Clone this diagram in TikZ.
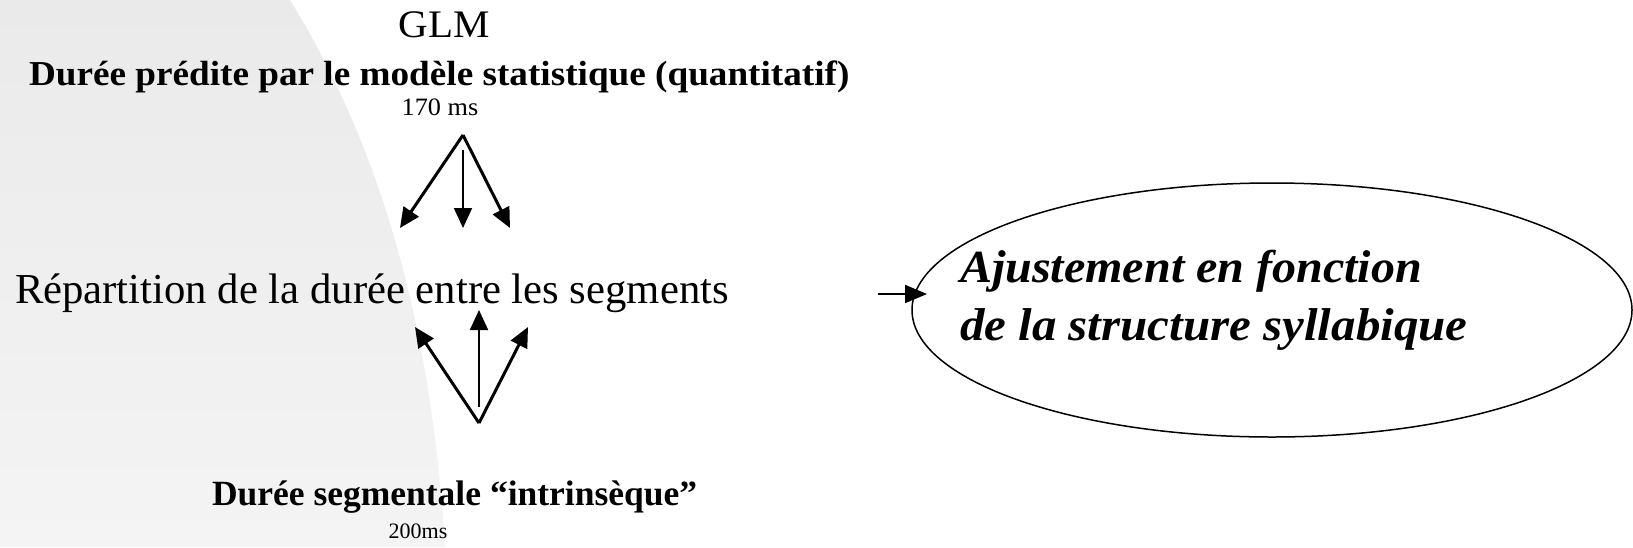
\documentclass[tikz,border=0pt]{standalone}
\usepackage{graphicx}
\usepackage{fontspec}
\setmainfont{Liberation Serif}
\usetikzlibrary{arrows.meta,shapes.geometric}
\tikzset{
  txt/.style={inner sep=0pt,outer sep=0pt,anchor=base},
  thick arrow/.style={line width=3pt,-{Triangle[length=20pt,width=18pt]}},
  thin arrow/.style={line width=1.8pt,-{Triangle[length=20pt,width=18pt]}},
  small arrow/.style={line width=1.8pt,-{Triangle[length=22pt,width=18pt]}},
  bubble/.style={draw,ellipse,line width=1.5pt,inner sep=0pt,minimum width=720pt,minimum height=254pt}
}
\begin{document}
\begin{tikzpicture}[x=1pt,y=-1pt]
\useasboundingbox (0,0) rectangle (1633,547);
% background swoosh
\shade[top color={rgb,255:red,234;green,234;blue,234},bottom color={rgb,255:red,244;green,244;blue,244}]
  (0,0) -- (290,0) .. controls (370,130) and (430,300) .. (445,547) -- (0,547) -- cycle;

\node[txt] (glm) at (444,37) {\fontsize{39}{42}\selectfont\scalebox{1.05}[1]{GLM}};
\node[txt,anchor=base west] (pred) at (29,85) {\fontsize{35}{38}\selectfont\bfseries\scalebox{1.063}[1]{Durée prédite par le modèle statistique (quantitatif)}};
\node[txt] (ms170) at (440,115) {\fontsize{25}{27}\selectfont\scalebox{1.05}[1]{170 ms}};
\node[txt,anchor=base west] (rep) at (15,303) {\fontsize{42.7}{46}\selectfont Répartition de la durée entre les segments};
\node[txt,anchor=base west] (seg) at (212,505) {\fontsize{35.5}{38}\selectfont\bfseries Durée segmentale “intrinsèque”};
\node[txt] (ms200) at (418,538) {\fontsize{22}{24}\selectfont 200ms};

\node[bubble] (ell) at (1272,310) {};
\node[txt,anchor=base west] (aj1) at (960,282) {\fontsize{46}{50}\selectfont\bfseries\itshape\scalebox{1.045}[1]{Ajustement en fonction}};
\node[txt,anchor=base west] (aj2) at (960,340) {\fontsize{46}{50}\selectfont\bfseries\itshape\scalebox{1.065}[1]{de la structure syllabique}};

% top arrows
\coordinate (ta) at (463,135);
\coordinate (tm) at (463,150);
\coordinate (tl) at (400,228);
\coordinate (tc) at (463,228);
\coordinate (tr) at (510,228);
\draw[thick arrow] (ta) -- (tl);
\draw[thin arrow] (tm) -- (tc);
\draw[thick arrow] (ta) -- (tr);

% bottom arrows
\coordinate (ba) at (479,423);
\coordinate (bm) at (479,407);
\coordinate (bl) at (415,327);
\coordinate (bc) at (479,310);
\coordinate (br) at (528,327);
\draw[thick arrow] (ba) -- (bl);
\draw[thin arrow] (bm) -- (bc);
\draw[thick arrow] (ba) -- (br);

% arrow to ellipse
\coordinate (es) at (878,294);
\coordinate (ee) at (927,294);
\draw[small arrow] (es) -- (ee);
\end{tikzpicture}
\end{document}
